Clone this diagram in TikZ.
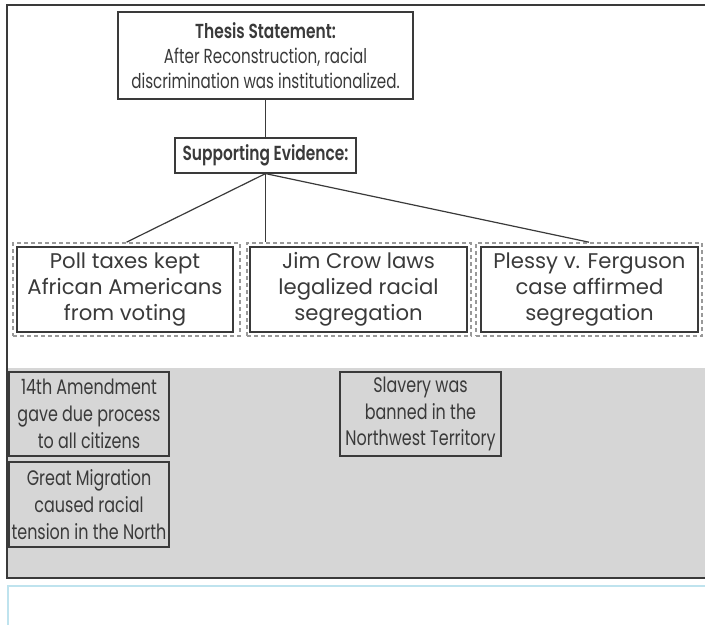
\documentclass[tikz,border=0pt]{standalone}
\usepackage{fontspec}
\setmainfont{Poppins}[BoldFont=*-SemiBold]
\newfontfamily\thesisfont{Poppins}[FakeStretch=0.745,BoldFont=*-SemiBold,BoldFeatures={FakeStretch=0.76}]
\newfontfamily\cardfont{Poppins}[FakeStretch=0.76]
\usetikzlibrary{calc}
\definecolor{ink}{HTML}{3A3A3A}
\definecolor{panel}{HTML}{D6D6D6}
\definecolor{answer}{HTML}{BFE3EE}
\begin{document}
\begin{tikzpicture}[x=1pt,y=-1pt,
  every node/.style={text=ink,align=center,inner sep=0pt},
  head/.style={font=\thesisfont\fontsize{20.3}{25}\selectfont},
  box/.style={draw=ink,line width=1.2pt,fill=white,font=\fontsize{21.2}{26}\selectfont},
  card/.style={draw=ink,line width=1.2pt,fill=panel,font=\cardfont\fontsize{21}{26.7}\selectfont},
  slot/.style={draw=gray!80,dashed,line width=1.6pt,dash pattern=on 4pt off 3pt},
  link/.style={draw=ink,line width=1.2pt}]
\useasboundingbox (0,0) rectangle (705,625);
\fill[white] (0,0) rectangle (705,625);
% grey answer bank and outer frame
\fill[panel] (7,368) rectangle (705,578);
\draw[ink,line width=1.4pt] (705,5) -- (7,5) -- (7,578) -- (705,578);
\draw[answer,line width=1.2pt] (8,625) -- (8,586) -- (705,586);

% organizer boxes
\node[box,head,minimum width=295,minimum height=87] (thesis) at (265.5,55.5)
  {\textbf{Thesis Statement:}\\After Reconstruction, racial\\discrimination was institutionalized.};
\node[box,head,minimum width=181,minimum height=35] (support) at (265.5,155.5)
  {\textbf{Supporting Evidence:}};

\node[slot,minimum width=227,minimum height=93] (slotA) at (126.5,289.5) {};
\node[slot,minimum width=224,minimum height=93] (slotB) at (359,289.5) {};
\node[slot,minimum width=226,minimum height=93] (slotC) at (589,289.5) {};

\node[box,minimum width=216,minimum height=85] (evA) at (125,289.5)
  {Poll taxes kept\\African Americans\\from voting};
\node[box,minimum width=217,minimum height=85] (evB) at (358.5,289.5)
  {Jim Crow laws\\legalized racial\\segregation};
\node[box,minimum width=217,minimum height=85] (evC) at (589.5,289.5)
  {Plessy v. Ferguson\\case affirmed\\segregation};

% connectors
\draw[link] (thesis.south) -- (support.north);
\draw[link] (support.south) -- (slotA.north);
\draw[link] (support.south) -- (support.south |- slotB.north);
\draw[link] (support.south) -- (slotC.north);

% answer cards
\node[card,minimum width=160,minimum height=84] (cardA) at (89,414)
  {14th Amendment\\gave due process\\to all citizens};
\node[card,minimum width=160,minimum height=85] (cardB) at (89,504.5)
  {Great Migration\\caused racial\\tension in the North};
\node[card,minimum width=161,minimum height=84] (cardC) at (420.5,414)
  {Slavery was\\banned in the\\Northwest Territory};
\end{tikzpicture}
\end{document}
